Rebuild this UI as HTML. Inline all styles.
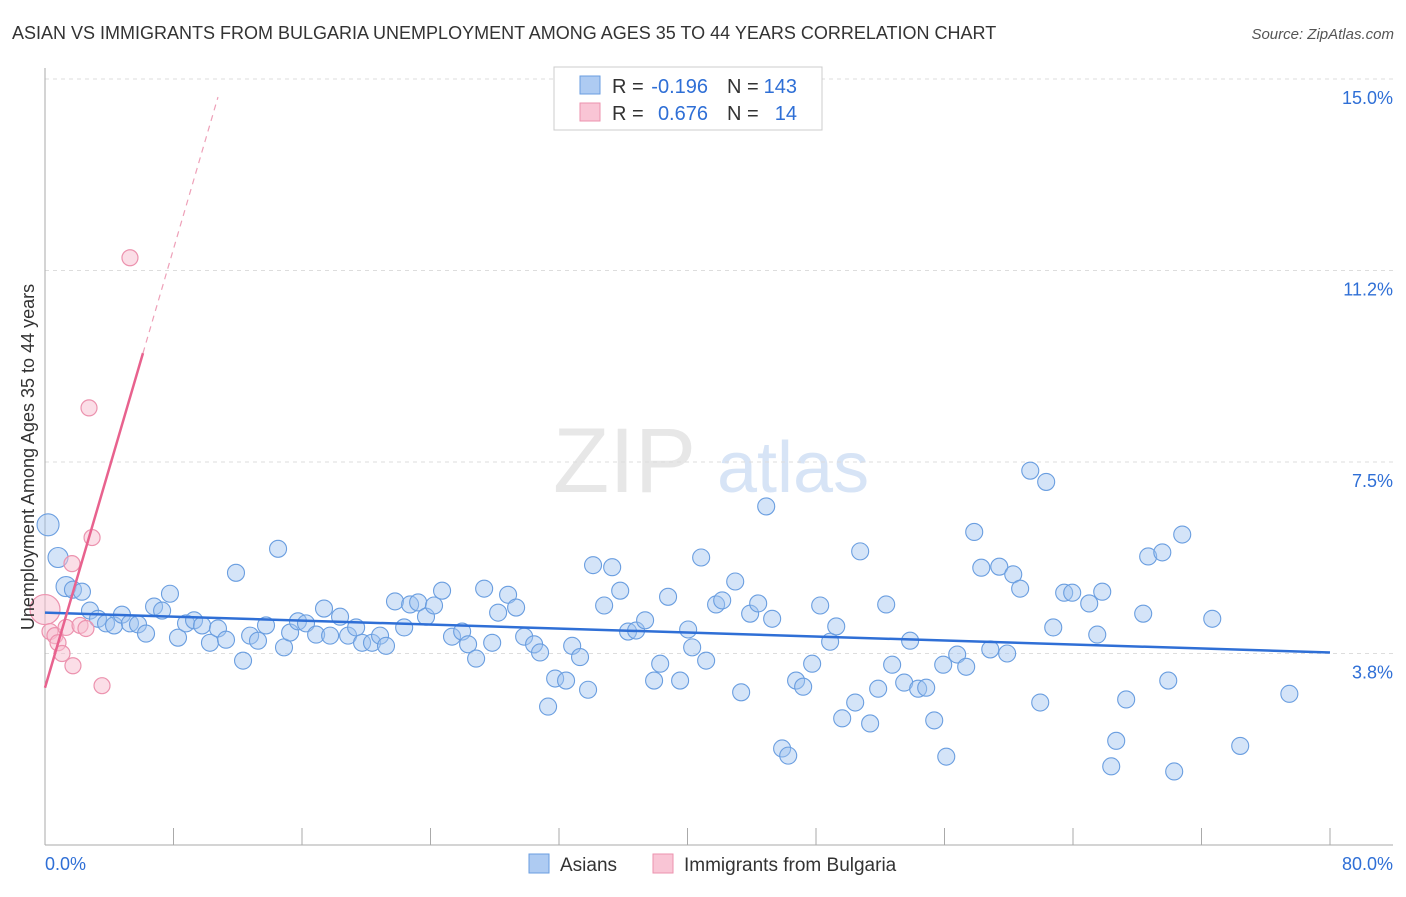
<!DOCTYPE html>
<html><head><meta charset="utf-8"><style>
body{margin:0;background:#fff;font-family:"Liberation Sans",sans-serif;}
svg text{font-family:"Liberation Sans",sans-serif;}
</style></head><body>
<svg id="chart" width="1406" height="892" xmlns="http://www.w3.org/2000/svg">
<text x="12" y="39" font-size="18" fill="#333">ASIAN VS IMMIGRANTS FROM BULGARIA UNEMPLOYMENT AMONG AGES 35 TO 44 YEARS CORRELATION CHART</text>
<text x="1394" y="39" font-size="15" fill="#555" text-anchor="end" font-style="italic">Source: ZipAtlas.com</text>
<g opacity="0.35">
<text x="553" y="492" font-size="92" fill="#bbb" font-family="Liberation Serif,serif">ZIP</text>
<text x="717" y="492" font-size="72" fill="#8fb4e6">atlas</text>
</g>
<g id="grid"></g>
<g id="axes"></g>
<g id="marks"></g>
<text transform="translate(34,457) rotate(-90)" font-size="18" fill="#333" text-anchor="middle">Unemployment Among Ages 35 to 44 years</text>
<g>
<rect x="554" y="67" width="268" height="63" fill="#fff" stroke="#ccc"/>
<rect x="580" y="76" width="20" height="18" fill="#aecbf2" stroke="#6a9ee0"/>
<rect x="580" y="103" width="20" height="18" fill="#f9c5d5" stroke="#ec92ae"/>
<text x="612" y="93" font-size="20" fill="#333">R =</text>
<text x="708" y="93" font-size="20" fill="#2f6fd6" text-anchor="end">-0.196</text>
<text x="727" y="93" font-size="20" fill="#333">N =</text>
<text x="797" y="93" font-size="20" fill="#2f6fd6" text-anchor="end">143</text>
<text x="612" y="120" font-size="20" fill="#333">R =</text>
<text x="708" y="120" font-size="20" fill="#2f6fd6" text-anchor="end">0.676</text>
<text x="727" y="120" font-size="20" fill="#333">N =</text>
<text x="797" y="120" font-size="20" fill="#2f6fd6" text-anchor="end">14</text>
</g>
<g>
<rect x="529" y="854" width="20" height="19" fill="#aecbf2" stroke="#6a9ee0"/>
<text x="560" y="871" font-size="19" fill="#333">Asians</text>
<rect x="653" y="854" width="20" height="19" fill="#f9c5d5" stroke="#ec92ae"/>
<text x="684" y="871" font-size="19" fill="#333">Immigrants from Bulgaria</text>
</g>
</svg>
<script>
const yTicks=[3.75,7.5,11.25,15];
const yTickLabels=["3.8%","7.5%","11.2%","15.0%"];
const xTickCount=10;
const asianX=[0.19,0.81,1.31,1.74,2.30,2.80,3.30,3.80,4.30,4.79,5.29,5.79,6.29,6.79,7.29,7.78,8.28,8.78,9.28,9.78,10.27,10.77,11.27,11.89,12.33,12.77,13.26,13.76,14.51,14.88,15.26,15.75,16.25,16.88,17.37,17.75,18.37,18.87,19.37,19.74,20.36,20.86,21.23,21.79,22.36,22.73,23.23,23.72,24.22,24.72,25.34,25.97,26.34,26.84,27.34,27.84,28.21,28.83,29.33,29.83,30.45,30.82,31.32,31.76,32.44,32.82,33.31,33.81,34.12,34.81,35.31,35.81,36.30,36.80,37.36,37.92,38.30,38.79,39.54,40.04,40.29,40.85,41.16,41.78,42.16,42.97,43.34,43.90,44.40,44.90,45.27,45.89,46.27,46.76,47.20,47.76,48.26,48.88,49.26,49.63,50.44,50.75,51.37,51.87,52.37,52.74,53.49,53.86,54.36,54.86,55.36,55.92,56.11,56.79,57.35,57.85,58.29,58.85,59.41,59.90,60.28,60.71,61.34,61.96,62.33,62.77,63.45,63.95,65.01,65.51,65.82,66.38,66.69,67.31,68.37,68.68,69.56,69.93,70.30,70.80,72.67,74.41,77.47];
const asianY=[6.27,5.63,5.06,5.00,4.96,4.59,4.43,4.34,4.30,4.51,4.34,4.32,4.14,4.67,4.59,4.92,4.06,4.34,4.40,4.30,3.96,4.24,4.02,5.33,3.61,4.10,4.00,4.30,5.80,3.87,4.16,4.38,4.34,4.12,4.63,4.10,4.47,4.10,4.26,3.96,3.96,4.10,3.90,4.77,4.26,4.71,4.75,4.47,4.69,4.98,4.08,4.18,3.93,3.65,5.02,3.96,4.55,4.90,4.65,4.08,3.93,3.77,2.71,3.26,3.22,3.90,3.68,3.04,5.48,4.69,5.44,4.98,4.18,4.20,4.40,3.22,3.55,4.86,3.22,4.22,3.87,5.63,3.61,4.71,4.79,5.16,2.99,4.53,4.73,6.63,4.43,1.89,1.75,3.22,3.10,3.55,4.69,3.98,4.28,2.48,2.79,5.75,2.38,3.06,4.71,3.53,3.18,4.00,3.06,3.08,2.44,3.53,1.73,3.73,3.49,6.13,5.43,3.83,5.45,3.75,5.30,5.02,7.33,2.79,7.11,4.26,4.94,4.94,4.73,4.12,4.96,1.54,2.04,2.85,4.53,5.65,5.73,3.22,1.44,6.08,4.43,1.94,2.96];
const bulgX=[0,0.31,0.62,0.81,1.06,1.31,1.68,1.74,2.18,2.55,2.74,2.93,3.55,5.29];
const bulgY=[4.61,4.18,4.10,3.96,3.75,4.26,5.51,3.51,4.30,4.24,8.56,6.02,3.12,11.50];
const asianTrend=[4.55,3.77];
const bulgIntercept=3.08, bulgSlope=1.074;

const X0=45,X1=1330,Y0=845,Ytop=79;
const xs=v=>X0+v/80*(X1-X0);
const ys=v=>Y0-v/15*(Y0-Ytop);
const NS="http://www.w3.org/2000/svg";
function mk(tag,parent,attrs){const e=document.createElementNS(NS,tag);for(const k in attrs)e.setAttribute(k,attrs[k]);parent.appendChild(e);return e;}
const grid=document.getElementById('grid'),axes=document.getElementById('axes'),marks=document.getElementById('marks');
yTicks.forEach((t,i)=>{
 const l=mk('line',grid,{x1:X0,x2:1393,y1:ys(t),y2:ys(t),stroke:'#ddd','stroke-dasharray':'4,4'});
 
 
 const tx=mk('text',axes,{x:1393,y:ys(t)+25,'font-size':18,fill:'#2f6fd6','text-anchor':'end'});
 tx.textContent=yTickLabels[i];
 
 
});
const ya=mk('line',axes,{x1:X0,x2:X0,y1:68,y2:Y0,stroke:'#aaa'});


const xa=mk('line',axes,{x1:X0,x2:1393,y1:Y0,y2:Y0,stroke:'#aaa'});


for(let i=0;i<=xTickCount;i++){
 const x=xs(i*8);
 const t=mk('line',axes,{x1:x,x2:x,y1:Y0-17,y2:Y0,stroke:'#aaa'});
 
 
}
const xl0=mk('text',axes,{x:45,y:870,'font-size':18,fill:'#2f6fd6'});xl0.textContent='0.0%';


const xl1=mk('text',axes,{x:1393,y:870,'font-size':18,fill:'#2f6fd6','text-anchor':'end'});xl1.textContent='80.0%';



asianX.forEach((x,i)=>{
 const r=i===0?11:(i<3?10:8.5);
 const c=mk('circle',marks,{cx:xs(x),cy:ys(asianY[i]),r:r,fill:'rgba(160,195,240,0.45)',stroke:'#6a9ee0','stroke-width':1.1});
 
 
});
bulgX.forEach((x,i)=>{
 const r=i===0?15:8;
 const c=mk('circle',marks,{cx:xs(x),cy:ys(bulgY[i]),r:r,fill:'rgba(248,190,208,0.5)',stroke:'#ec92ae','stroke-width':1.2});
 
 
});
const at=mk('line',marks,{x1:xs(0),y1:ys(asianTrend[0]),x2:xs(80),y2:ys(asianTrend[1]),stroke:'#2f6fd6','stroke-width':2.5});


const bs=mk('line',marks,{x1:xs(0),y1:ys(bulgIntercept),x2:xs(6.1),y2:ys(bulgIntercept+bulgSlope*6.1),stroke:'#e8628e','stroke-width':2.5});


const bd=mk('line',marks,{x1:xs(6.1),y1:ys(bulgIntercept+bulgSlope*6.1),x2:xs(10.77),y2:ys(bulgIntercept+bulgSlope*10.77),stroke:'#eea0b8','stroke-width':1.2,'stroke-dasharray':'6,5'});


</script>
</body></html>
